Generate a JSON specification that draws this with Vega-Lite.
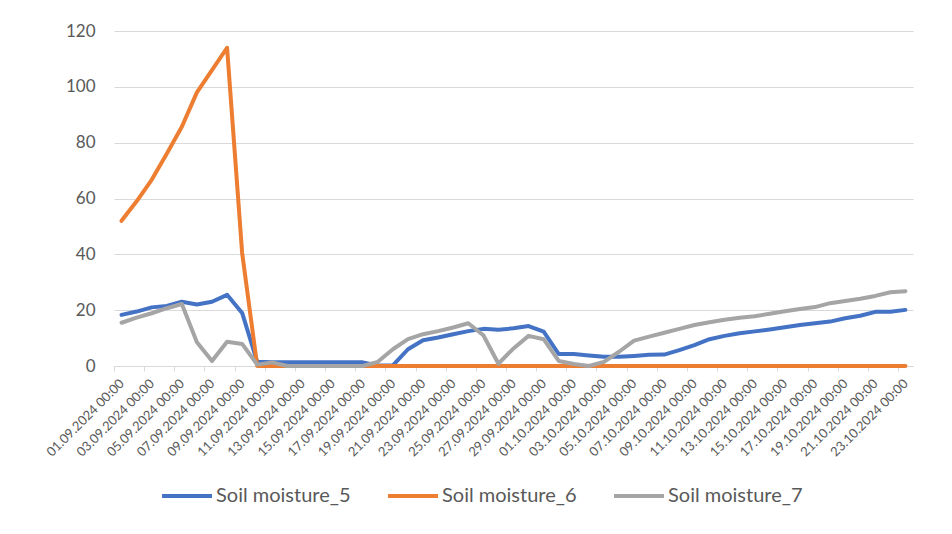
{
  "$schema": "https://vega.github.io/schema/vega-lite/v6.json",
  "width": 799,
  "height": 335,
  "autosize": {"type": "none"},
  "padding": {"left": 114, "top": 31, "right": 39, "bottom": 168},
  "background": "#ffffff",
  "config": {"view": {"stroke": null}, "font": "Lato"},
  "data": {"values": [
    {"d":"01.09.2024 00:00","a":18.3,"b":52,"c":15.5},
    {"d":"02.09.2024 00:00","a":19.5,"b":59,"c":17.3},
    {"d":"03.09.2024 00:00","a":21,"b":66.7,"c":18.9},
    {"d":"04.09.2024 00:00","a":21.5,"b":76,"c":20.7},
    {"d":"05.09.2024 00:00","a":23,"b":85.7,"c":22.2},
    {"d":"06.09.2024 00:00","a":22,"b":98,"c":8.5},
    {"d":"07.09.2024 00:00","a":23,"b":106,"c":1.8},
    {"d":"08.09.2024 00:00","a":25.5,"b":114,"c":8.7},
    {"d":"09.09.2024 00:00","a":19,"b":40.5,"c":7.9},
    {"d":"10.09.2024 00:00","a":1.5,"b":0,"c":0.5},
    {"d":"11.09.2024 00:00","a":1.3,"b":0,"c":1.3},
    {"d":"12.09.2024 00:00","a":1.3,"b":0,"c":0},
    {"d":"13.09.2024 00:00","a":1.3,"b":0,"c":0},
    {"d":"14.09.2024 00:00","a":1.3,"b":0,"c":0},
    {"d":"15.09.2024 00:00","a":1.3,"b":0,"c":0},
    {"d":"16.09.2024 00:00","a":1.3,"b":0,"c":0},
    {"d":"17.09.2024 00:00","a":1.3,"b":0,"c":0},
    {"d":"18.09.2024 00:00","a":0.2,"b":0,"c":1.5},
    {"d":"19.09.2024 00:00","a":0.2,"b":0,"c":6},
    {"d":"20.09.2024 00:00","a":6,"b":0,"c":9.6},
    {"d":"21.09.2024 00:00","a":9.2,"b":0,"c":11.4},
    {"d":"22.09.2024 00:00","a":10.2,"b":0,"c":12.5},
    {"d":"23.09.2024 00:00","a":11.4,"b":0,"c":13.8},
    {"d":"24.09.2024 00:00","a":12.5,"b":0,"c":15.3},
    {"d":"25.09.2024 00:00","a":13.3,"b":0,"c":11},
    {"d":"26.09.2024 00:00","a":13,"b":0,"c":0.8},
    {"d":"27.09.2024 00:00","a":13.5,"b":0,"c":6.3},
    {"d":"28.09.2024 00:00","a":14.3,"b":0,"c":10.8},
    {"d":"29.09.2024 00:00","a":12.3,"b":0,"c":9.6},
    {"d":"30.09.2024 00:00","a":4.3,"b":0,"c":1.8},
    {"d":"01.10.2024 00:00","a":4.3,"b":0,"c":0.7},
    {"d":"02.10.2024 00:00","a":3.8,"b":0,"c":0},
    {"d":"03.10.2024 00:00","a":3.3,"b":0,"c":1.5},
    {"d":"04.10.2024 00:00","a":3.3,"b":0,"c":5.1},
    {"d":"05.10.2024 00:00","a":3.6,"b":0,"c":9.1},
    {"d":"06.10.2024 00:00","a":4,"b":0,"c":10.5},
    {"d":"07.10.2024 00:00","a":4.1,"b":0,"c":11.9},
    {"d":"08.10.2024 00:00","a":5.7,"b":0,"c":13.3},
    {"d":"09.10.2024 00:00","a":7.5,"b":0,"c":14.7},
    {"d":"10.10.2024 00:00","a":9.6,"b":0,"c":15.7},
    {"d":"11.10.2024 00:00","a":10.8,"b":0,"c":16.6},
    {"d":"12.10.2024 00:00","a":11.7,"b":0,"c":17.3},
    {"d":"13.10.2024 00:00","a":12.4,"b":0,"c":17.8},
    {"d":"14.10.2024 00:00","a":13.1,"b":0,"c":18.7},
    {"d":"15.10.2024 00:00","a":13.9,"b":0,"c":19.6},
    {"d":"16.10.2024 00:00","a":14.7,"b":0,"c":20.4},
    {"d":"17.10.2024 00:00","a":15.3,"b":0,"c":21.1},
    {"d":"18.10.2024 00:00","a":15.9,"b":0,"c":22.5},
    {"d":"19.10.2024 00:00","a":17.1,"b":0,"c":23.3},
    {"d":"20.10.2024 00:00","a":18,"b":0,"c":24.1},
    {"d":"21.10.2024 00:00","a":19.4,"b":0,"c":25.1},
    {"d":"22.10.2024 00:00","a":19.4,"b":0,"c":26.4},
    {"d":"23.10.2024 00:00","a":20.1,"b":0,"c":26.8}
  ]},
  "transform": [
    {"fold": ["a", "b", "c"], "as": ["k", "v"]},
    {"lookup": "k", "from": {"data": {"values": [
      {"k": "a", "series": "Soil moisture_5"},
      {"k": "b", "series": "Soil moisture_6"},
      {"k": "c", "series": "Soil moisture_7"}
    ]}, "key": "k", "fields": ["series"]}}
  ],
  "mark": {"type": "line", "strokeWidth": 4, "strokeJoin": "round", "strokeCap": "round"},
  "encoding": {
    "x": {
      "field": "d", "type": "ordinal", "sort": null,
      "scale": {"type": "point", "padding": 0.5},
      "axis": {
        "title": null,
        "values": ["01.09.2024 00:00","03.09.2024 00:00","05.09.2024 00:00","07.09.2024 00:00","09.09.2024 00:00","11.09.2024 00:00","13.09.2024 00:00","15.09.2024 00:00","17.09.2024 00:00","19.09.2024 00:00","21.09.2024 00:00","23.09.2024 00:00","25.09.2024 00:00","27.09.2024 00:00","29.09.2024 00:00","01.10.2024 00:00","03.10.2024 00:00","05.10.2024 00:00","07.10.2024 00:00","09.10.2024 00:00","11.10.2024 00:00","13.10.2024 00:00","15.10.2024 00:00","17.10.2024 00:00","19.10.2024 00:00","21.10.2024 00:00","23.10.2024 00:00"],
        "labelAngle": -45,
        "labelAlign": "right",
        "labelBaseline": "middle",
        "labelFontSize": 13,
        "labelColor": "#595959",
        "labelPadding": 10,
        "tickOffset": -7.5,
        "labelOffset": 7.5,
        "tickSize": 5,
        "tickColor": "#d9d9d9",
        "domainColor": "#d9d9d9",
        "grid": false,
        "labelOverlap": false
      }
    },
    "y": {
      "field": "v", "type": "quantitative",
      "scale": {"domain": [0, 120]},
      "axis": {
        "title": null,
        "values": [0, 20, 40, 60, 80, 100, 120],
        "domain": false,
        "ticks": false,
        "labelFontSize": 17,
        "labelColor": "#595959",
        "labelPadding": 19,
        "gridColor": "#d9d9d9"
      }
    },
    "color": {
      "field": "series", "type": "nominal",
      "scale": {"domain": ["Soil moisture_5", "Soil moisture_6", "Soil moisture_7"], "range": ["#4472C4", "#ED7D31", "#A5A5A5"]},
      "legend": {
        "title": null,
        "orient": "none",
        "direction": "horizontal",
        "legendX": 46,
        "legendY": 438,
        "symbolType": "stroke",
        "symbolSize": 2500,
        "symbolStrokeWidth": 4,
        "labelFontSize": 20,
        "labelColor": "#595959",
        "labelOffset": 2,
        "columnPadding": 29
      }
    }
  }
}
